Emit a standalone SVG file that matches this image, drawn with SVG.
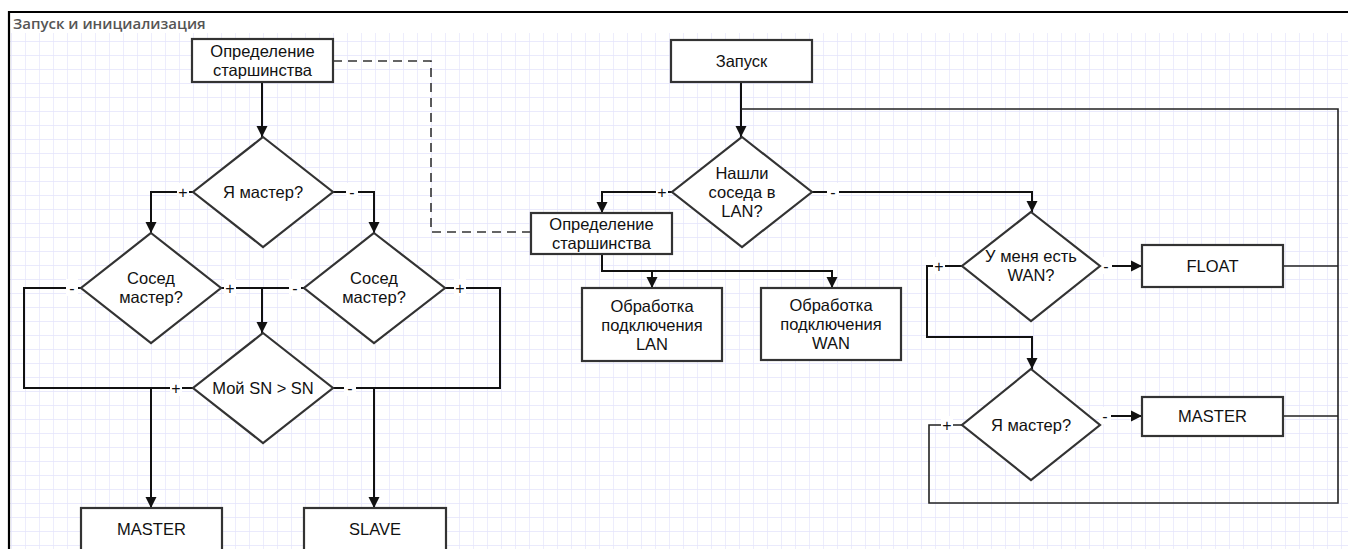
<svg xmlns="http://www.w3.org/2000/svg" width="1348" height="549" viewBox="0 0 1348 549">
<style>
.box{fill:#fff;stroke:#333;stroke-width:2.2}
.dia{fill:#fff;stroke:#333;stroke-width:2.2}
.t{font-family:"Liberation Sans",Arial,sans-serif;font-size:16.5px;fill:#111;text-anchor:middle}
.lb{font-family:"Liberation Sans",Arial,sans-serif;font-size:16px;fill:#111;text-anchor:middle}
.lbg{fill:#fff}
.c{fill:none;stroke:#111;stroke-width:2}
.c2{fill:none;stroke:#222;stroke-width:1.6}
.dash{fill:none;stroke:#333;stroke-width:1.6;stroke-dasharray:9 6}
.title{font-family:"Open Sans","Liberation Sans",sans-serif;font-size:15px;font-weight:600;fill:#555}
</style>
<defs>
<pattern id="grid" x="11" y="41" width="14" height="14" patternUnits="userSpaceOnUse">
<path d="M0,0 H14 M0,0 V14" fill="none" stroke="#e4e4fb" stroke-width="1.3"/>
</pattern>
<marker id="arr" markerUnits="userSpaceOnUse" markerWidth="12" markerHeight="12" refX="11" refY="6" orient="auto">
<path d="M0,0.5 L11,6 L0,11.5 Z" fill="#111"/>
</marker>
</defs>
<rect x="0" y="0" width="1348" height="549" fill="#fff"/>
<rect x="10" y="33" width="1338" height="516" fill="url(#grid)"/>
<path d="M9,549 V12 H1348" fill="none" stroke="#000" stroke-width="2.2"/>
<text class="title" x="13" y="29">Запуск и инициализация</text>

<g id="connectors">
<path class="c" d="M262,82 V137" marker-end="url(#arr)"/>
<path class="c" d="M193,192 H151 V233" marker-end="url(#arr)"/>
<path class="c" d="M333,192 H374 V233" marker-end="url(#arr)"/>
<path class="c" d="M81,288 H24 V388 H193"/>
<path class="c" d="M151,388 V508" marker-end="url(#arr)"/>
<path class="c" d="M445,288 H500 V388 H333"/>
<path class="c" d="M374,388 V508" marker-end="url(#arr)"/>
<path class="c" d="M220,288 H304"/>
<path class="c" d="M262,288 V333" marker-end="url(#arr)"/>
<path class="dash" d="M333,61 H431 V232 H531"/>
<path class="c" d="M741,82 V137" marker-end="url(#arr)"/>
<path class="c2" d="M741,109 H1338 V503 H929 V425 H962"/>
<path class="c" d="M672,192 H602 V213" marker-end="url(#arr)"/>
<path class="c" d="M812,192 H1032 V212" marker-end="url(#arr)"/>
<path class="c" d="M602,254 V271 H832 V288" marker-end="url(#arr)"/>
<path class="c" d="M652,271 V288" marker-end="url(#arr)"/>
<path class="c" d="M962,266 H927 V337 H1032 V369" marker-end="url(#arr)"/>
<path class="c" d="M1099,266 H1142" marker-end="url(#arr)"/>
<path class="c" d="M1100,416 H1142" marker-end="url(#arr)"/>
<path class="c2" d="M1283,266 H1338"/>
<path class="c2" d="M1283,416 H1338"/>
<g id="labels">
<rect class="lbg" x="177" y="183" width="12" height="17"/><text class="lb" x="183" y="198">+</text>
<rect class="lbg" x="346" y="183" width="12" height="17"/><text class="lb" x="352" y="198">-</text>
<rect class="lbg" x="66" y="279" width="12" height="17"/><text class="lb" x="72" y="294">-</text>
<rect class="lbg" x="224" y="279" width="12" height="17"/><text class="lb" x="230" y="294">+</text>
<rect class="lbg" x="289" y="279" width="12" height="17"/><text class="lb" x="295" y="294">-</text>
<rect class="lbg" x="454" y="279" width="12" height="17"/><text class="lb" x="460" y="294">+</text>
<rect class="lbg" x="170" y="379" width="12" height="17"/><text class="lb" x="176" y="394">+</text>
<rect class="lbg" x="344" y="379" width="12" height="17"/><text class="lb" x="350" y="394">-</text>
<rect class="lbg" x="656" y="183" width="12" height="17"/><text class="lb" x="662" y="198">+</text>
<rect class="lbg" x="827" y="183" width="12" height="17"/><text class="lb" x="833" y="198">-</text>
<rect class="lbg" x="933" y="257" width="12" height="17"/><text class="lb" x="939" y="272">+</text>
<rect class="lbg" x="1100" y="257" width="12" height="17"/><text class="lb" x="1106" y="272">-</text>
<rect class="lbg" x="941" y="416" width="12" height="17"/><text class="lb" x="947" y="431">+</text>
<rect class="lbg" x="1099" y="407" width="12" height="17"/><text class="lb" x="1105" y="422">-</text>
</g>
</g>

<g id="n-opr1"><rect class="box" x="192" y="39" width="141" height="43"/><text class="t" x="262.5" y="57">Определение</text><text class="t" x="262.5" y="76">старшинства</text></g>
<g id="n-master1"><polygon class="dia" points="263,137 333,192 263,247 193,192"/><text class="t" x="263" y="198">Я мастер?</text></g>
<g id="n-sosed1"><polygon class="dia" points="151,233 221,288 151,343 81,288"/><text class="t" x="151" y="284">Сосед</text><text class="t" x="151" y="303">мастер?</text></g>
<g id="n-sosed2"><polygon class="dia" points="374,233 445,288 374,343 304,288"/><text class="t" x="374" y="284">Сосед</text><text class="t" x="374" y="303">мастер?</text></g>
<g id="n-sn"><polygon class="dia" points="263,333 333,388 263,443 193,388"/><text class="t" x="263" y="394">Мой SN &gt; SN</text></g>
<g id="n-masterL"><rect class="box" x="81" y="508" width="141" height="45"/><text class="t" x="151.5" y="535">MASTER</text></g>
<g id="n-slave"><rect class="box" x="304" y="508" width="142" height="45"/><text class="t" x="375" y="535">SLAVE</text></g>

<g id="n-start"><rect class="box" x="671" y="40" width="141" height="42"/><text class="t" x="741.5" y="67">Запуск</text></g>
<g id="n-lan"><polygon class="dia" points="742,137 812,192 742,247 672,192"/><text class="t" x="742" y="179">Нашли</text><text class="t" x="742" y="198">соседа в</text><text class="t" x="742" y="217">LAN?</text></g>
<g id="n-opr2"><rect class="box" x="531" y="213" width="141" height="41"/><text class="t" x="601.5" y="230">Определение</text><text class="t" x="601.5" y="249">старшинства</text></g>
<g id="n-proclan"><rect class="box" x="582" y="288" width="140" height="73"/><text class="t" x="652" y="312">Обработка</text><text class="t" x="652" y="331">подключения</text><text class="t" x="652" y="350">LAN</text></g>
<g id="n-procwan"><rect class="box" x="761" y="288" width="140" height="72"/><text class="t" x="831" y="311">Обработка</text><text class="t" x="831" y="330">подключения</text><text class="t" x="831" y="349">WAN</text></g>
<g id="n-wan"><polygon class="dia" points="1031,212 1100,266 1031,321 962,266"/><text class="t" x="1031" y="262">У меня есть</text><text class="t" x="1031" y="281">WAN?</text></g>
<g id="n-float"><rect class="box" x="1142" y="245" width="141" height="42"/><text class="t" x="1212.5" y="272">FLOAT</text></g>
<g id="n-master2"><polygon class="dia" points="1031,369 1100,425 1031,480 962,425"/><text class="t" x="1031" y="431">Я мастер?</text></g>
<g id="n-masterR"><rect class="box" x="1142" y="397" width="141" height="39"/><text class="t" x="1212.5" y="422">MASTER</text></g>
</svg>
